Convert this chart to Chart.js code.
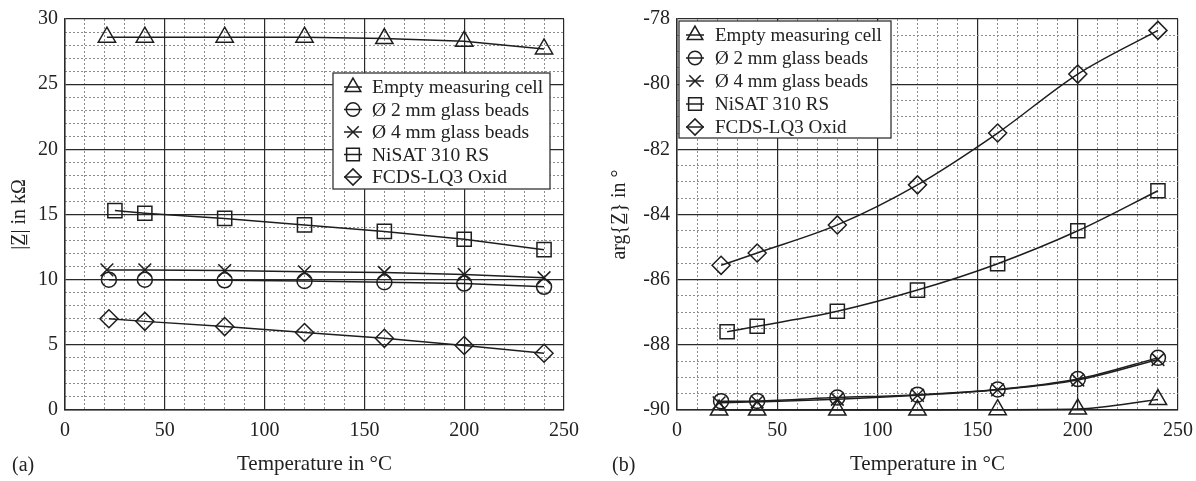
<!DOCTYPE html>
<html lang="en">
<head>
<meta charset="UTF-8">
<title>Impedance vs temperature</title>
<script src="https://cdn.jsdelivr.net/npm/chart.js"></script>
<style>
    body { margin: 0; background: #fff; font-family: 'Liberation Serif', serif; }
    .wrap { position: relative; width: 1196px; height: 481px; }
    .panel { position: absolute; top: 0; height: 481px; }
    #panelA { left: 0; width: 600px; }
    #panelB { left: 600px; width: 596px; }
    .tag { position: absolute; top: 453px; font-size: 20px; color: #222; }
</style>
</head>
<body>
<div class="wrap">
    <div class="panel" id="panelA"><canvas id="chartA"></canvas></div>
    <div class="panel" id="panelB"><canvas id="chartB"></canvas></div>
    <span class="tag" style="left:12px">(a)</span>
    <span class="tag" style="left:612px">(b)</span>
</div>
<script>
// series names and marker shapes (legend order)
const seriesNames = ['Empty measuring cell', 'Ø 2 mm glass beads', 'Ø 4 mm glass beads', 'NiSAT 310 RS', 'FCDS-LQ3 Oxid'];
const seriesMarkers = ['triangle', 'circle', 'crossRot', 'rect', 'rectRot'];

// measuring temperatures in °C
const tempEmpty = [21, 40, 80, 120, 160, 200, 240];
const temp2mm = [22, 40, 80, 120, 160, 200, 240];
const temp4mm = [21, 40, 80, 120, 160, 200, 240];
const tempNisat = [25, 40, 80, 120, 160, 200, 240];
const tempFcds = [22, 40, 80, 120, 160, 200, 240];

// (a) |Z| in kOhm
const magEmpty = [28.6, 28.6, 28.6, 28.6, 28.5, 28.3, 27.7];
const mag2mm = [10.0, 10.0, 9.95, 9.9, 9.8, 9.7, 9.45];
const mag4mm = [10.75, 10.75, 10.7, 10.6, 10.55, 10.4, 10.15];
const magNisat = [15.3, 15.1, 14.7, 14.2, 13.7, 13.1, 12.3];
const magFcds = [7.0, 6.8, 6.4, 5.95, 5.5, 4.95, 4.35];

// (b) arg{Z} in degrees
const argEmpty = [-90, -90, -90, -90, -89.99, -89.97, -89.68];
const arg2mm = [-89.73, -89.72, -89.62, -89.53, -89.37, -89.05, -88.4];
const arg4mm = [-89.78, -89.75, -89.67, -89.55, -89.38, -89.08, -88.45];
const argNisat = [-87.6, -87.43, -86.97, -86.32, -85.51, -84.5, -83.27];
const argFcds = [-85.56, -85.18, -84.32, -83.09, -81.5, -79.69, -78.35];

const temps = [tempEmpty, temp2mm, temp4mm, tempNisat, tempFcds];
const markerSize = { triangle: 10, circle: 7.5, crossRot: 9, rect: 10, rectRot: 9 };

const INK = '#1e1e1e';
Chart.defaults.font.family = "'Liberation Serif', 'Times New Roman', serif";
Chart.defaults.font.size = 20;
Chart.defaults.color = '#222';

function makeDatasets(values, smooth) {
    return values.map((ys, i) => ({
        label: seriesNames[i],
        data: temps[i].map((t, k) => ({ x: t, y: ys[k] })),
        showLine: true,
        borderColor: INK,
        borderWidth: 1.5,
        backgroundColor: 'rgba(0,0,0,0)',
        pointStyle: seriesMarkers[i],
        pointRadius: markerSize[seriesMarkers[i]],
        pointBorderWidth: 1.5,
        pointBorderColor: INK,
        pointBackgroundColor: 'rgba(0,0,0,0)',
        cubicInterpolationMode: smooth ? 'monotone' : 'default',
        clip: false
    }));
}

// framed legend drawn inside the plot area
const boxLegend = {
    id: 'boxLegend',
    afterDatasetsDraw(chart, args, o) {
        const ctx = chart.ctx;
        ctx.save();
        ctx.fillStyle = '#fff';
        ctx.fillRect(o.x, o.y, o.w, o.h);
        ctx.strokeStyle = '#333';
        ctx.lineWidth = 1.3;
        ctx.strokeRect(o.x, o.y, o.w, o.h);
        chart.data.datasets.forEach((ds, i) => {
            const cy = o.y + o.first + i * o.row;
            const cx = o.x + o.mark;
            ctx.strokeStyle = INK;
            ctx.lineWidth = 1.5;
            ctx.beginPath();
            ctx.moveTo(cx - 9, cy);
            ctx.lineTo(cx + 9, cy);
            ctx.stroke();
            ctx.fillStyle = 'rgba(0,0,0,0)';
            Chart.helpers.drawPoint(ctx, { pointStyle: ds.pointStyle, radius: ds.pointRadius * 0.9, rotation: 0, borderWidth: 1.5 }, cx, cy);
            ctx.fillStyle = '#222';
            ctx.font = o.font + "px 'Liberation Serif', serif";
            ctx.textBaseline = 'middle';
            ctx.fillText(ds.label, o.x + o.text, cy + 1);
        });
        ctx.restore();
    }
};

function isMajor(v, step) {
    return Math.abs(v / step - Math.round(v / step)) < 1e-6;
}

function makeChart(id, values, yMin, yMax, yMajor, yMinor, yTitle, axisWidth, padRight, legend, smooth) {
    const grid = { color: '#2a2a2a', lineWidth: 1.2, drawTicks: false };
    const minorGrid = (step) => ({
        color: c => isMajor(c.tick.value, step) ? 'rgba(0,0,0,0)' : '#8c8c8c',
        lineWidth: 1,
        drawTicks: false
    });
    return new Chart(document.getElementById(id), {
        type: 'scatter',
        data: { datasets: makeDatasets(values, smooth) },
        options: {
            responsive: true,
            maintainAspectRatio: false,
            animation: false,
            layout: { padding: { top: 12, right: padRight, left: 0, bottom: 0 } },
            plugins: { legend: { display: false }, tooltip: { enabled: false }, boxLegend: legend },
            scales: {
                x: {
                    type: 'linear', min: 0, max: 250,
                    ticks: { stepSize: 50, padding: 9, maxRotation: 0 },
                    grid: grid,
                    border: { color: '#2a2a2a', width: 1.5 },
                    title: { display: true, text: 'Temperature in °C', font: { size: 21 }, padding: { top: 4, bottom: 4 } },
                    afterFit: s => { s.height = 71; s.paddingLeft = 0; s.paddingRight = 0; }
                },
                xMinor: {
                    type: 'linear', position: 'bottom', min: 0, max: 250,
                    ticks: { display: false, stepSize: 10 },
                    grid: minorGrid(50),
                    border: { display: false, dash: [2, 2] },
                    afterFit: s => { s.height = 0; }
                },
                y: {
                    type: 'linear', min: yMin, max: yMax,
                    ticks: { stepSize: yMajor, padding: 7, callback: v => String(v) },
                    grid: grid,
                    border: { color: '#2a2a2a', width: 1.5 },
                    title: { display: true, text: yTitle, font: { size: 20 }, padding: { top: 8, bottom: 0 } },
                    afterFit: s => { s.width = axisWidth; }
                },
                yMinor: {
                    type: 'linear', position: 'left', min: yMin, max: yMax,
                    ticks: { display: false, stepSize: yMinor },
                    grid: minorGrid(yMajor),
                    border: { display: false, dash: [2, 2] },
                    afterFit: s => { s.width = 0; }
                }
            }
        },
        plugins: [boxLegend]
    });
}

makeChart('chartA', [magEmpty, mag2mm, mag4mm, magNisat, magFcds], 0, 30, 5, 1,
    '|Z\u0332| in kΩ', 65, 36,
    { x: 333, y: 73, w: 217, h: 116, mark: 20, text: 39, first: 14, row: 22.5, font: 19.5 }, false);

makeChart('chartB', [argEmpty, arg2mm, arg4mm, argNisat, argFcds], -90, -78, 2, 0.5,
    'arg{Z\u0332} in °', 77, 18,
    { x: 79, y: 21, w: 212, h: 117, mark: 16, text: 36, first: 14, row: 23, font: 19 }, true);
</script>
</body>
</html>
